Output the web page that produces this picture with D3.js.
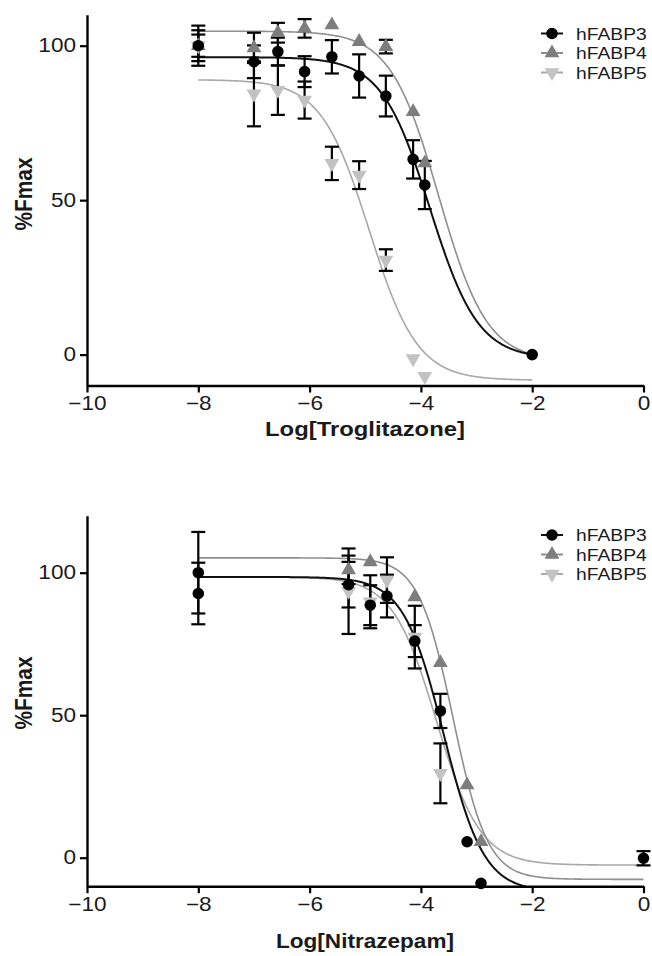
<!DOCTYPE html>
<html><head><meta charset="utf-8">
<script src="https://cdn.jsdelivr.net/npm/d3@7"></script>
<style>body{margin:0;background:#fff;} svg{display:block;}</style>
</head><body>
<svg id="c" width="652" height="956"></svg>
<script>
// ---------- DATA ----------
const seriesNames = ["hFABP3", "hFABP4", "hFABP5"];
const xTicks = [-10, -8, -6, -4, -2, 0];
const yTicks = [0, 50, 100];

// Troglitazone panel
const trogX3 = [-8, -7, -6.57, -6.09, -5.6, -5.11, -4.63, -4.14, -3.93, -2];
const trogY3 = [100, 94.8, 98.1, 91.6, 96.4, 90.2, 83.7, 63.2, 54.9, 0];
const trogE3 = [6.5, 5.3, 4.5, 5, 5.4, 7, 6.6, 6.2, 7.8, 0];
const trogX4 = [-8, -7, -6.57, -6.09, -5.6, -5.11, -4.63, -4.14, -3.93];
const trogY4 = [100, 99.3, 104.2, 105.6, 106.7, 101.3, 99.7, 78.6, 62];
const trogE4 = [5, 4.9, 3.2, 3, 0, 0, 2.2, 0, 0];
const trogX5 = [-8, -7, -6.57, -6.09, -5.6, -5.11, -4.63, -4.14, -3.93];
const trogY5 = [100, 84.4, 85.6, 82.4, 61.9, 58.1, 30.6, -1.3, -7.0];
const trogE5 = [3.6, 10.5, 8, 6, 5.4, 4.5, 3.5, 0, 0];
// fitted 4-parameter logistic curves (top, bottom, logIC50, hill)
const trogFitTop = [96.3, 104.7, 89];
const trogFitBottom = [-1.4, -2.1, -8.3];
const trogFitLogIC50 = [-3.84, -3.68, -4.93];
const trogFitHill = [1, 1, 1];
const trogFitRange = [-8, -2];

// Nitrazepam panel
const nitX3 = [-8, -8, -5.30, -4.91, -4.61, -4.11, -3.65, -3.17, -2.92, 0];
const nitY3 = [100, 92.7, 95.8, 88.6, 91.8, 76.0, 51.5, 5.6, -9.0, -0.2];
const nitE3 = [14.3, 10.8, 8, 7, 7.5, 5.6, 6, 0, 0, 2.5];
const nitX4 = [-5.30, -4.91, -4.11, -3.65, -3.17, -2.92];
const nitY4 = [101, 103.8, 91.5, 68.4, 25.5, 5.6];
const nitE4 = [5, 0, 0, 0, 0, 0];
const nitX5 = [-5.30, -4.91, -4.61, -4.11, -3.65];
const nitY5 = [93.5, 89.8, 97.4, 77.4, 29.6];
const nitE5 = [15, 9.3, 8, 11, 10.5];
const nitFitTop = [98.5, 105.2, 98.5];
const nitFitBottom = [-12, -7.6, -2.6];
const nitFitLogIC50 = [-3.59, -3.42, -3.72];
const nitFitHill = [1.2, 1.4, 1.1];
const nitFitRange = [-8, 0];

// ---------- STYLE ----------
const markerColor = ["#000000", "#7d7d7d", "#c2c2c2"];
const curveColor = ["#111111", "#8f8f8f", "#a8a8a8"];
const curveWidth = [2, 1.6, 1.6];
const FONT = "'Liberation Sans', Arial, Helvetica, sans-serif";
// measured widths of the lettering in the reference (px)
const W_TICK100 = 37.7, W_LEGEND_hFABP = 60, W_YTITLE = 73;
const W_XTITLE = {"Log[Troglitazone]": 200, "Log[Nitrazepam]": 178};

const svg = d3.select("#c");

function panel(cfg) {
  const g = svg.append("g");
  const x = d3.scaleLinear().domain([-10, 0]).range([87, 643.5]);
  const y = d3.scaleLinear().domain(cfg.yDomain).range(cfg.yRange);
  const clipId = "clip" + cfg.id;
  g.append("clipPath").attr("id", clipId).append("rect")
    .attr("x", x(-10)).attr("y", y.range()[1] - 5)
    .attr("width", x(0) - x(-10) + 10).attr("height", y.range()[0] - y.range()[1] + 5);

  // curves
  const line = d3.line().x(d => x(d[0])).y(d => y(d[1]));
  const order = [2, 1, 0];
  order.forEach(i => {
    const xs = d3.range(cfg.fitRange[0], cfg.fitRange[1] + 1e-9, 0.02);
    const pts = xs.map(v => [v, cfg.fitBottom[i] + (cfg.fitTop[i] - cfg.fitBottom[i]) /
      (1 + Math.pow(10, cfg.fitHill[i] * (v - cfg.fitLogIC50[i])))]);
    g.append("path").attr("d", line(pts)).attr("fill", "none")
      .attr("stroke", curveColor[i]).attr("stroke-width", curveWidth[i])
      .attr("clip-path", `url(#${clipId})`);
  });

  // error bars
  const capW = 7;
  order.forEach(i => {
    const s = cfg.series[i];
    s.x.forEach((xv, k) => {
      const e = s.e[k];
      if (!e) return;
      const cx = x(xv), y1 = y(s.y[k] + e), y2 = y(s.y[k] - e);
      const eb = g.append("g").attr("stroke", "#000").attr("stroke-width", 2.2);
      eb.append("line").attr("x1", cx).attr("x2", cx).attr("y1", y1).attr("y2", y2);
      eb.append("line").attr("x1", cx - capW).attr("x2", cx + capW).attr("y1", y1).attr("y2", y1);
      eb.append("line").attr("x1", cx - capW).attr("x2", cx + capW).attr("y1", y2).attr("y2", y2);
    });
  });

  // markers
  const sym = [d3.symbolCircle, d3.symbolTriangle, d3.symbolTriangle];
  const symSize = [105, 95, 95];
  order.forEach(i => {
    const s = cfg.series[i];
    s.x.forEach((xv, k) => {
      const rot = i === 2 ? " rotate(180)" : "";
      g.append("path").attr("d", d3.symbol().type(sym[i]).size(symSize[i])())
        .attr("transform", `translate(${x(xv)},${y(s.y[k])})${rot}`)
        .attr("fill", markerColor[i]);
    });
  });

  // axes
  const ya = g.append("g").attr("transform", `translate(${x(-10)},0)`)
    .call(d3.axisLeft(y).tickValues(yTicks).tickSize(7).tickSizeOuter(0).tickPadding(2.5));
  const xa = g.append("g").attr("transform", `translate(0,${y(cfg.yDomain[0])})`)
    .call(d3.axisBottom(x).tickValues(xTicks).tickSize(7).tickSizeOuter(0).tickPadding(4));
  [ya, xa].forEach(a => {
    a.attr("font-size", null).attr("font-family", null);
    a.select(".domain").attr("stroke", "#000").attr("stroke-width", 2.4);
    a.selectAll(".tick line").attr("stroke", "#000").attr("stroke-width", 2.2);
    a.selectAll(".tick text").attr("fill", "#1a1a1a").attr("font-family", FONT)
      .attr("font-size", 19.5).style("font-family", FONT).style("font-size", "19.5px");
  });
  // horizontal stretch fitted to the reference width of "100"
  let k100 = 1.16;
  ya.selectAll(".tick text").each(function(d) {
    if (d === 100) { const w = this.getComputedTextLength(); if (w > 0) k100 = W_TICK100 / w; }
  });
  [ya, xa].forEach(a => a.selectAll(".tick text").attr("transform", `scale(${k100},1)`));
  ya.selectAll(".tick text").attr("x", -11 / k100);
  xa.selectAll(".tick text").attr("x", 0);

  // axis titles
  const xt = g.append("text")
    .attr("text-anchor", "middle").attr("font-family", FONT).attr("font-weight", "bold")
    .attr("font-size", 20.5).style("font-family", FONT).style("font-size", "20.5px")
    .attr("fill", "#1a1a1a").text(cfg.xTitle);
  const wxt = xt.node().getComputedTextLength() || 1;
  xt.attr("transform", `translate(${cfg.xTitlePos[0]},${cfg.xTitlePos[1]}) scale(${W_XTITLE[cfg.xTitle] / wxt},1)`);
  const yt = g.append("text")
    .attr("text-anchor", "middle").attr("font-family", FONT).attr("font-weight", "bold")
    .attr("font-size", 20.5).style("font-family", FONT).style("font-size", "20.5px")
    .attr("fill", "#1a1a1a").text("%Fmax");
  const wyt = yt.node().getComputedTextLength() || 1;
  yt.attr("transform", `translate(${cfg.yTitlePos[0]},${cfg.yTitlePos[1]}) rotate(-90) scale(${W_YTITLE / wyt},${k100})`);

  // legend
  seriesNames.forEach((name, i) => {
    const ly = cfg.legendY + i * 19.5;
    const lg = g.append("g").attr("transform", `translate(552,${ly})`);
    lg.append("line").attr("x1", -11).attr("x2", 11).attr("y1", 0).attr("y2", 0)
      .attr("stroke", curveColor[i]).attr("stroke-width", 2);
    lg.append("path").attr("d", d3.symbol().type(sym[i]).size(symSize[i])())
      .attr("transform", i === 2 ? "rotate(180)" : null).attr("fill", markerColor[i]);
    const t = g.append("text").attr("font-family", FONT).attr("font-size", 16.3)
      .style("font-family", FONT).style("font-size", "16.3px").attr("fill", "#1a1a1a")
      .text(name);
    let sub = 0;
    try { sub = t.node().getSubStringLength(0, 5); } catch (e) { sub = 0; }
    let kl = sub > 0 ? W_LEGEND_hFABP / sub : 1.16;
    const full = t.node().getComputedTextLength();
    if (full > 0 && 576 + full * kl > 649) kl = (649 - 576) / full;
    t.attr("transform", `translate(576,${ly + 6}) scale(${kl},1)`);
  });
}

panel({
  id: 1, yDomain: [-10, 110], yRange: [385.5, 14.8],
  fitTop: trogFitTop, fitBottom: trogFitBottom, fitLogIC50: trogFitLogIC50, fitHill: trogFitHill,
  fitRange: trogFitRange,
  series: [{x: trogX3, y: trogY3, e: trogE3}, {x: trogX4, y: trogY4, e: trogE4}, {x: trogX5, y: trogY5, e: trogE5}],
  xTitle: "Log[Troglitazone]", xTitlePos: [365, 436], yTitlePos: [32, 194], legendY: 33.5
});
panel({
  id: 2, yDomain: [-10, 120], yRange: [886.2, 515.7],
  fitTop: nitFitTop, fitBottom: nitFitBottom, fitLogIC50: nitFitLogIC50, fitHill: nitFitHill,
  fitRange: nitFitRange,
  series: [{x: nitX3, y: nitY3, e: nitE3}, {x: nitX4, y: nitY4, e: nitE4}, {x: nitX5, y: nitY5, e: nitE5}],
  xTitle: "Log[Nitrazepam]", xTitlePos: [365, 948], yTitlePos: [32, 693], legendY: 535
});
</script>
</body></html>
